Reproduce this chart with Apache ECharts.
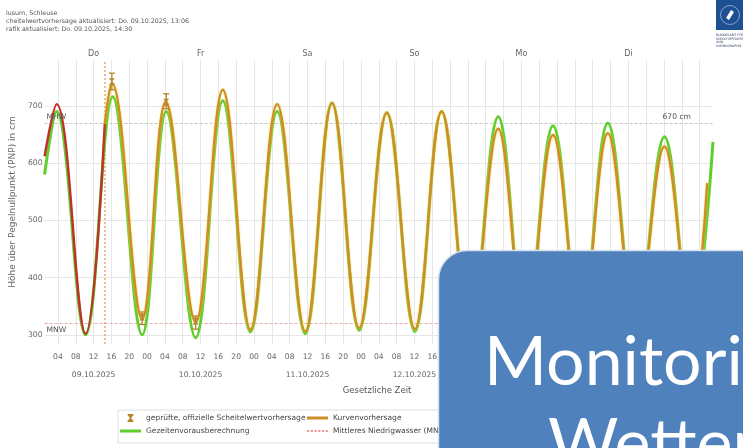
<!DOCTYPE html>
<html>
<head>
<meta charset="utf-8">
<script src="https://cdn.jsdelivr.net/npm/echarts@6/dist/echarts.min.js"></script>
<style>
html,body{margin:0;padding:0;background:#fff;}
#c{width:743px;height:448px;}
</style>
</head>
<body>
<div id="c"></div>
<script>
// ---- data (hours since 09.10.2025 00:00) ----
const tickHours = [4,8,12,16,20,24,28,32,36,40,44,48,52,56,60,64,68,72,76,80,84,88,92,96,100,104,108,112,116,120,124,128,132,136,140,144,148];
const dayCenters = [12,36,60,84,108,132];
const dayNames = ['Do','Fr','Sa','So','Mo','Di'];
const dateLabels = ['09.10.2025','10.10.2025','11.10.2025','12.10.2025','13.10.2025','14.10.2025'];
const yTicks = [300,400,500,600,700];

const measTime = [1.0, 3.7, 10.2, 14.5];
const measVal  = [612, 703, 302, 668];

const greenTime = [1.0, 3.7, 10.2, 16.3, 22.9, 28.3, 34.9, 41.0, 47.2, 53.2, 59.5, 65.5, 71.6, 77.8, 84.1, 90.1, 96.5, 102.8, 108.9, 115.1, 121.3, 127.4, 133.7, 140.1, 146.1, 151.0];
const greenVal  = [580, 690, 300, 716, 300, 690, 295, 709, 305, 690, 302, 705, 308, 688, 306, 690, 310, 681, 315, 665, 315, 670, 318, 646, 320, 637];

const orangeTime = [14.5, 16.1, 22.9, 28.2, 34.9, 41.0, 47.2, 53.2, 59.5, 65.5, 71.6, 77.8, 84.1, 90.1, 96.5, 102.8, 108.9, 115.1, 121.3, 127.4, 133.7, 140.1, 146.1, 149.7];
const orangeVal  = [668, 740, 328, 707, 322, 728, 309, 703, 306, 705, 312, 688, 310, 690, 308, 660, 312, 649, 315, 652, 318, 629, 320, 565];

const officialTime = [16.1, 22.9, 28.3, 34.9];
const officialLow  = [728, 318, 695, 310];
const officialHigh = [757, 340, 721, 333];
const officialVal  = [742, 331, 706, 324];

const mhwValue = 670;
const mnwValue = 320;
const nowHour = 14.5;

// ---- build ----
const zip = (a,b) => a.map((t,i)=>[t,b[i]]);
const pad2 = v => (v<10?'0':'')+v;
const C_GREEN='#5fcf2b', C_ORANGE='#cf8d2a', C_RED='#c1302a', C_OFF='#b7852c';
const FONT='DejaVu Sans';
const ICON_SOLID='path://M0,0 L21,0 L21,3 L0,3 Z';
const ICON_DOTS='path://M0,0h2.2v2.2h-2.2z M3.7,0h2.2v2.2h-2.2z M7.4,0h2.2v2.2h-2.2z M11.1,0h2.2v2.2h-2.2z M14.8,0h2.2v2.2h-2.2z M18.5,0h2.2v2.2h-2.2z';

const chart = echarts.init(document.getElementById('c'), null, {renderer:'canvas'});
const labelStyle = {fontFamily:FONT, fontSize:7.6, color:'#666'};
const mlLabel = {show:true, fontFamily:FONT, fontSize:7.6, color:'#555'};

const option = {
  backgroundColor:'#fff',
  animation:false,
  grid:{left:41, right:30, top:60, bottom:104, containLabel:false},
  xAxis:[
    {type:'value', min:1, max:151, position:'bottom',
     axisLine:{show:false}, axisTick:{show:false, customValues:tickHours},
     splitLine:{show:false},
     axisLabel:Object.assign({customValues:tickHours, margin:9, formatter:v=>pad2(v%24)}, labelStyle)},
    {type:'value', min:1, max:151, position:'bottom', offset:18,
     axisLine:{show:false}, axisTick:{show:false, customValues:dayCenters}, splitLine:{show:false},
     axisLabel:Object.assign({customValues:dayCenters, margin:9, formatter:v=>dateLabels[dayCenters.indexOf(v)]}, labelStyle)},
    {type:'value', min:1, max:151, position:'top',
     axisLine:{show:false}, axisTick:{show:false, customValues:dayCenters}, splitLine:{show:false},
     axisLabel:Object.assign({customValues:dayCenters, margin:2, formatter:v=>dayNames[dayCenters.indexOf(v)]}, labelStyle, {fontSize:8})}
  ],
  yAxis:{type:'value', min:284, max:780,
    name:'Höhe über Pegelnullpunkt (PNP) in cm', nameLocation:'middle', nameGap:20, nameRotate:90,
    nameTextStyle:{fontFamily:FONT, fontSize:9, color:'#666'},
    axisLine:{show:false}, axisTick:{show:false, customValues:yTicks}, splitLine:{show:false},
    axisLabel:Object.assign({customValues:yTicks, margin:2}, labelStyle, {fontSize:7.7})},
  legend:[
    {orient:'vertical', left:120, top:414, itemWidth:21, itemHeight:8, itemGap:5, padding:0,
     selectedMode:false, textStyle:{fontFamily:FONT, fontSize:7.5, color:'#444'},
     data:[{name:'geprüfte, offizielle Scheitelwertvorhersage', icon:'path://M0,0 L6,0 L6,1 L3.6,4 L6,7 L6,8 L0,8 L0,7 L2.4,4 L0,1 Z'},
           {name:'Gezeitenvorausberechnung', icon:ICON_SOLID}]},
    {orient:'vertical', left:307, top:414, itemWidth:21, itemHeight:8, itemGap:5, padding:0,
     selectedMode:false, textStyle:{fontFamily:FONT, fontSize:7.5, color:'#444'},
     data:[{name:'Kurvenvorhersage', icon:ICON_SOLID},{name:'Mittleres Niedrigwasser (MNW)', icon:ICON_DOTS}]}
  ],
  series:[
    {type:'line', name:'grid', data:[], silent:true,
     markLine:{silent:true, z:1, symbol:['none','none'], label:{show:false},
       lineStyle:{color:'#e6e6e6', type:'solid', width:1},
       emphasis:{disabled:true},
       data: tickHours.map(h=>({xAxis:h})).concat(yTicks.map(v=>({yAxis:v})))}},
    {type:'line', name:'Mittleres Hochwasser (MHW)', data:[], symbol:'none',
     lineStyle:{color:'#c4c4c4', type:'dashed', width:1.2},
     markLine:{silent:true, z:1, symbol:['none','none'], label:{show:false},
       lineStyle:{color:'#c4c4c4', type:[3,2], width:1.2},
       data:[{yAxis:mhwValue}]}},
    {type:'line', name:'Mittleres Niedrigwasser (MNW)', data:[], symbol:'none',
     itemStyle:{color:'#f09a9a'},
     lineStyle:{color:'#f09a9a', type:[2,1.5], width:2},
     markLine:{silent:true, z:1, symbol:['none','none'], label:{show:false},
       lineStyle:{color:'#f3a7a7', type:[3,2], width:1.2},
       data:[{yAxis:mnwValue}]}},
    {type:'line', name:'levelLabels', data:[], symbol:'none',
     markLine:{silent:true, z:8, symbol:['none','none'],
       lineStyle:{color:'rgba(255,255,255,0)', width:0.1},
       data:[{yAxis:mhwValue, label:Object.assign({formatter:'MHW', position:'insideStartTop', distance:[2,2]}, mlLabel)},
             {yAxis:mhwValue, label:Object.assign({formatter:mhwValue+' cm', position:'insideEndTop', distance:[22,2]}, mlLabel)},
             {yAxis:mnwValue, label:Object.assign({formatter:'MNW', position:'insideStartBottom', distance:[2,3]}, mlLabel)}]}},
    {type:'line', name:'now', data:[], symbol:'none',
     markLine:{silent:true, z:1, symbol:['none','none'], label:{show:false},
       lineStyle:{color:'#e9a877', type:[2,2], width:1.5},
       data:[{xAxis:nowHour}]}},
    {type:'line', name:'Gezeitenvorausberechnung', data:zip(greenTime,greenVal), smooth:0.4, symbol:'none', showSymbol:false, z:2,
     itemStyle:{color:C_GREEN}, lineStyle:{color:C_GREEN, width:3}},
    {type:'line', name:'Kurvenvorhersage', data:zip(orangeTime,orangeVal), smooth:0.4, symbol:'none', showSymbol:false, z:3,
     itemStyle:{color:C_ORANGE}, lineStyle:{color:C_ORANGE, width:2.4, shadowColor:'rgba(240,210,60,0.9)', shadowBlur:2}},
    {type:'line', name:'Messwerte', data:zip(measTime,measVal), smooth:0.4, symbol:'none', showSymbol:false, z:3,
     itemStyle:{color:C_RED}, lineStyle:{color:C_RED, width:2.4}},
    {type:'custom', name:'geprüfte, offizielle Scheitelwertvorhersage', z:5,
     itemStyle:{color:C_OFF},
     data: officialTime.map((t,i)=>[t, officialLow[i], officialHigh[i], officialVal[i]]),
     encode:{x:0, y:[1,2]},
     renderItem:function(params, api){
       const x = api.coord([api.value(0), api.value(1)])[0];
       const yl = api.coord([api.value(0), api.value(1)])[1];
       const yh = api.coord([api.value(0), api.value(2)])[1];
       const yc = api.coord([api.value(0), api.value(3)])[1];
       const st = {stroke:C_OFF, lineWidth:1.3};
       return {type:'group', children:[
         {type:'line', shape:{x1:x,y1:yl,x2:x,y2:yh}, style:st},
         {type:'line', shape:{x1:x-3,y1:yh,x2:x+3,y2:yh}, style:st},
         {type:'line', shape:{x1:x-3,y1:yl,x2:x+3,y2:yl}, style:st},
         {type:'polygon', shape:{points:[[x-3,yc-3.5],[x+3,yc-3.5],[x,yc],[x+3,yc+3.5],[x-3,yc+3.5],[x,yc]]}, style:{fill:C_OFF}}
       ]};
     }}
  ],
  graphic:[
    {type:'text', x:6, y:13, z:100, style:{text:'lusum, Schleuse', fontFamily:FONT, fontSize:6.3, fill:'#555', verticalAlign:'middle'}},
    {type:'text', x:6, y:21.5, z:100, style:{text:'cheitelwertvorhersage aktualisiert: Do. 09.10.2025, 13:06', fontFamily:FONT, fontSize:6.3, fill:'#555', verticalAlign:'middle'}},
    {type:'text', x:6, y:29.5, z:100, style:{text:'rafik aktualisiert: Do. 09.10.2025, 14:30', fontFamily:FONT, fontSize:6.3, fill:'#555', verticalAlign:'middle'}},
    // logo
    {type:'rect', z:100, shape:{x:716, y:0, width:30, height:30}, style:{fill:'#1d4f93'}},
    {type:'circle', z:101, shape:{cx:730, cy:15, r:9.5}, style:{fill:'none', stroke:'rgba(255,255,255,0.6)', lineWidth:0.8}},
    {type:'polygon', z:101, shape:{points:[[731,10],[734,12],[729,20],[726,18]]}, style:{fill:'#ffffff'}},
    {type:'text', x:716, y:35, z:100, style:{text:'BUNDESAMT FÜR', fontFamily:FONT, fontSize:3.2, fill:'#2a3d66', verticalAlign:'middle'}},
    {type:'text', x:716, y:38.8, z:100, style:{text:'SEESCHIFFFAHRT', fontFamily:FONT, fontSize:3.2, fill:'#2a3d66', verticalAlign:'middle'}},
    {type:'text', x:716, y:42.6, z:100, style:{text:'UND', fontFamily:FONT, fontSize:3.2, fill:'#2a3d66', verticalAlign:'middle'}},
    {type:'text', x:716, y:46.4, z:100, style:{text:'HYDROGRAPHIE', fontFamily:FONT, fontSize:3.2, fill:'#2a3d66', verticalAlign:'middle'}},
    // axis title
    {type:'text', x:377, y:391, z:100, style:{text:'Gesetzliche Zeit', fontFamily:FONT, fontSize:8.5, fill:'#555', align:'center', verticalAlign:'middle'}},
    // legend frame
    {type:'rect', z:3, shape:{x:118, y:410, width:360, height:33}, style:{fill:'none', stroke:'#dedede', lineWidth:1}},
    // overlay
    {type:'rect', z:200, shape:{x:438.5, y:250.5, width:340, height:240, r:[29,0,0,0]}, style:{fill:'#4f81bd', stroke:'#d5e0ee', lineWidth:1.5}},
    {type:'text', x:484, y:363, z:201, style:{text:'Monitori', fontFamily:'Lato', fontSize:68, fill:'#ffffff', verticalAlign:'middle'}},
    {type:'text', x:548, y:445, z:201, style:{text:'Wetter', fontFamily:'Lato', fontSize:68, fill:'#ffffff', verticalAlign:'middle'}}
  ]
};
chart.setOption(option);
</script>
</body>
</html>
